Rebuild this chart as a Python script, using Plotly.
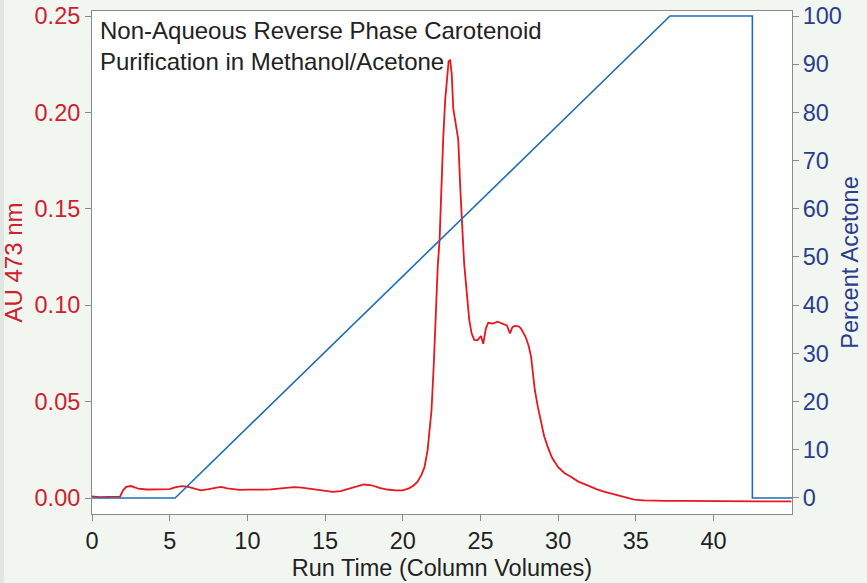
import plotly.graph_objects as go

# red trace: absorbance at 473 nm vs run time (column volumes)
run_time = [0.0, 0.5, 1.0, 1.5, 1.8, 2.0, 2.2, 2.5, 2.8, 3.0, 3.5, 4.0, 4.5, 5.0,
            5.4, 5.8, 6.2, 6.6, 7.0, 7.5, 8.0, 8.3, 8.7, 9.0, 9.5, 10.0, 10.5,
            11.0, 11.5, 12.0, 12.5, 13.0, 13.5, 14.0, 14.5, 15.0, 15.5, 16.0,
            16.5, 17.0, 17.5, 18.0, 18.5, 19.0, 19.5, 20.0, 20.4, 20.7, 20.95,
            21.2, 21.4, 21.6, 21.75, 21.85, 22.0, 22.13, 22.25, 22.37, 22.47,
            22.6, 22.73, 22.85, 22.95, 23.05, 23.15, 23.25, 23.35, 23.5, 23.57,
            23.7, 23.8, 23.87, 23.95, 24.13, 24.28, 24.43, 24.6, 24.8, 25.03,
            25.18, 25.35, 25.5, 25.8, 26.1, 26.4, 26.7, 26.9, 27.05, 27.2,
            27.45, 27.6, 27.9, 28.1, 28.26, 28.4, 28.5, 28.7, 28.9, 29.1, 29.33,
            29.6, 30.0, 30.4, 30.84, 31.3, 31.7, 32.1, 32.5, 33.0, 33.4, 33.9,
            34.4, 34.9, 35.5, 36.0, 37.0, 38.0, 39.0, 40.0, 41.0, 42.0, 43.0,
            44.0, 45.0]
au_473 = [0.0008, 0.0005, 0.0006, 0.0006, 0.0007, 0.0040, 0.0058, 0.0062, 0.0052,
          0.0048, 0.0044, 0.0045, 0.0044, 0.0046, 0.0056, 0.0062, 0.0058, 0.0048,
          0.0040, 0.0046, 0.0052, 0.0058, 0.0050, 0.0046, 0.0042, 0.0043, 0.0042,
          0.0043, 0.0045, 0.0048, 0.0054, 0.0056, 0.0054, 0.0048, 0.0042, 0.0036,
          0.0032, 0.0036, 0.0048, 0.0062, 0.0070, 0.0066, 0.0052, 0.0044, 0.0040,
          0.0040, 0.0050, 0.0065, 0.0085, 0.0120, 0.0160, 0.0250, 0.0360, 0.0455,
          0.0700, 0.0975, 0.1200, 0.1340, 0.1610, 0.1860, 0.2065, 0.2200, 0.2265,
          0.2270, 0.2200, 0.2020, 0.1970, 0.1910, 0.1860, 0.1610, 0.1390, 0.1340,
          0.1217, 0.1044, 0.0923, 0.0854, 0.0820, 0.0818, 0.0840, 0.0800, 0.0880,
          0.0909, 0.0905, 0.0914, 0.0905, 0.0895, 0.0854, 0.0885, 0.0893, 0.0890,
          0.0880, 0.0836, 0.0790, 0.0732, 0.0630, 0.0559, 0.0470, 0.0386, 0.0320,
          0.0265, 0.0210, 0.0160, 0.0130, 0.0109, 0.0085, 0.0072, 0.0057, 0.0045,
          0.0032, 0.0023, 0.0012, 0.0002, -0.0008, -0.0012, -0.0014, -0.0015,
          -0.0015, -0.0016, -0.0016, -0.0017, -0.0017, -0.0017, -0.0017, -0.0017]

# blue trace: gradient program
grad_time = [0, 5.35, 37.2, 42.5, 42.5, 45.05]
pct_acetone = [0, 0, 100, 100, 0, 0]

x_ticks = [0, 5, 10, 15, 20, 25, 30, 35, 40]
au_ticks = [0.0, 0.05, 0.10, 0.15, 0.20, 0.25]
pct_ticks = [0, 10, 20, 30, 40, 50, 60, 70, 80, 90, 100]

RED = '#e8161f'
RED_TXT = '#d0202c'
BLUE = '#1f6db5'
BLUE_TXT = '#2a3d8f'
GRID = '#8a8a8a'
BG = '#f2f6f1'
FONT = 'Liberation Sans, Arial'
FS = 23.5

fig = go.Figure()
fig.add_trace(go.Scatter(x=grad_time, y=pct_acetone, mode='lines', yaxis='y2',
                         line={'color': BLUE, 'width': 1.6}, showlegend=False))
fig.add_trace(go.Scatter(x=run_time, y=au_473, mode='lines',
                         line={'color': RED, 'width': 1.8}, showlegend=False))

fig.update_layout(
    width=867, height=583,
    margin={'l': 92, 'r': 75, 't': 11, 'b': 69},
    paper_bgcolor=BG,
    plot_bgcolor='white',
    font={'family': FONT, 'size': FS, 'color': '#222'},
    xaxis={
        'range': [0, 45.05], 'tickvals': x_ticks, 'automargin': False,
        'showgrid': False, 'zeroline': False,
        'showline': True, 'linecolor': GRID, 'mirror': True,
        'ticks': 'outside', 'ticklen': 6, 'tickcolor': GRID,
        'title': {'text': 'Run Time (Column Volumes)', 'standoff': 6,
                  'font': {'size': FS, 'color': '#222'}},
    },
    yaxis={
        'range': [-0.0083, 0.2526], 'tickvals': au_ticks, 'tickformat': '.2f',
        'automargin': False,
        'showgrid': False, 'zeroline': False,
        'showline': True, 'linecolor': GRID,
        'ticks': 'outside', 'ticklen': 6, 'tickcolor': GRID,
        'tickfont': {'color': RED_TXT},
        'title': {'text': 'AU 473 nm', 'font': {'size': 24, 'color': RED_TXT}, 'standoff': 5},
    },
    yaxis2={
        'range': [-3.33, 101.04], 'tickvals': pct_ticks,
        'overlaying': 'y', 'side': 'right', 'automargin': False,
        'showgrid': False, 'zeroline': False,
        'showline': True, 'linecolor': GRID,
        'ticks': 'outside', 'ticklen': 6, 'tickcolor': GRID,
        'ticklabelstandoff': -1,
        'tickfont': {'color': BLUE_TXT},
        'title': {'text': 'Percent Acetone', 'font': {'size': FS, 'color': BLUE_TXT},
                  'standoff': 0},
    },
    annotations=[{
        'text': 'Non-Aqueous Reverse Phase Carotenoid<br>Purification in Methanol/Acetone',
        'xref': 'paper', 'yref': 'paper', 'x': 0.008, 'y': 0.992,
        'xanchor': 'left', 'yanchor': 'top', 'align': 'left', 'showarrow': False,
        'font': {'size': 24, 'color': '#222'},
    }],
    shapes=[{
        'type': 'rect', 'xref': 'paper', 'yref': 'paper',
        'x0': -92 / 700, 'x1': -88 / 700, 'y0': -69 / 503, 'y1': 514 / 503,
        'fillcolor': '#e0e6e0', 'line': {'width': 0}, 'layer': 'below',
    }],
)

# drop the default page margin so the figure sits at the window's top-left corner
fig.write_html("out.html", config={'displayModeBar': False},
               post_script="document.body.style.margin='0';document.body.style.background='%s';" % BG)
